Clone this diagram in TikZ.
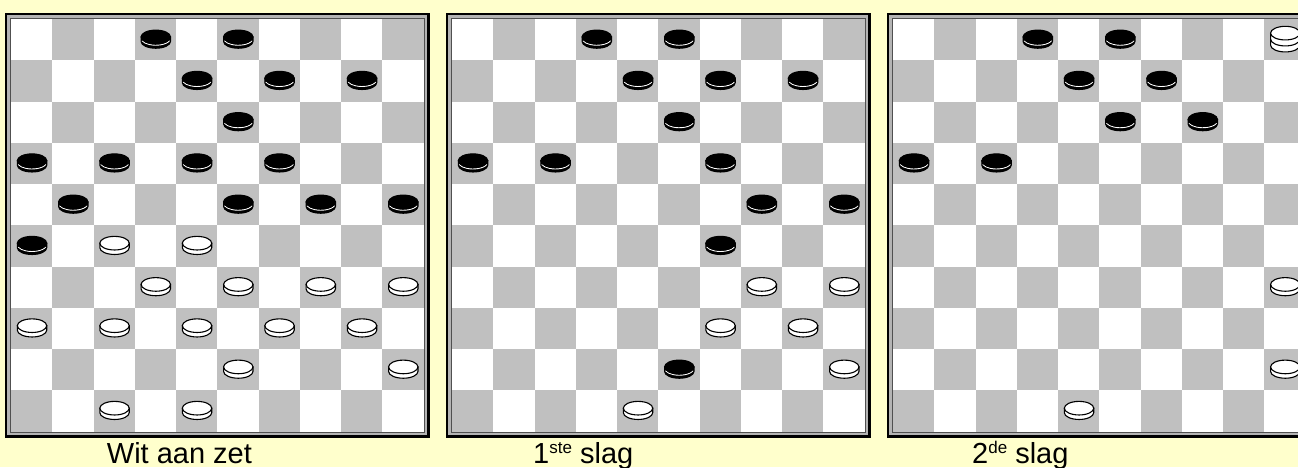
\documentclass[tikz,border=0pt]{standalone}
\usepackage{fontspec}
\setmainfont{Liberation Sans}
\definecolor{bgyellow}{HTML}{FFFFCC}
\definecolor{sqgray}{HTML}{C0C0C0}
\definecolor{framegray}{HTML}{B4B4B4}
\definecolor{framedark}{HTML}{505050}
\tikzset{
  piecebody/.style={line width=1.1pt, draw=black},
  boardlabel/.style={anchor=base west, inner sep=0pt, font=\fontsize{29}{34}\selectfont}
}
% #1,#2 = top-left corner of the squares
\newcommand\dbBoard[2]{%
  \fill[black] ({#1-6},{#2-6}) rectangle ({#1+418.5},{#2+418.5});
  \fill[framegray] ({#1-3.6},{#2-3.6}) rectangle ({#1+416.1},{#2+416.1});
  \fill[framedark] ({#1-1.3},{#2-1.3}) rectangle ({#1+413.8},{#2+413.8});
  \fill[white] (#1,#2) rectangle ({#1+412.5},{#2+412.5});
  \foreach \r in {0,...,9}{\foreach \c in {0,...,9}{%
    \pgfmathtruncatemacro\odd{mod(\r+\c,2)}%
    \ifnum\odd=1
      \fill[sqgray] ({#1+\c*41.25},{#2+\r*41.25}) rectangle ++(41.25,41.25);
    \fi}}%
}
% #1,#2 board origin, #3 row, #4 col
\newcommand\dbBlack[4]{%
  \begin{scope}[shift={({#1+(#4+0.5)*41.25+0.4},{#2+(#3+0.5)*41.25})}]
    \filldraw[piecebody, fill=black] (-14.7,-2.7) -- (-14.7,1.8)
      arc[start angle=180, end angle=360, x radius=14.7pt, y radius=6.8pt] -- (14.7,-2.7) -- cycle;
    \draw[white, line width=0.9pt] (0,-1.2) ++(200:14.7pt and 6.8pt)
      arc[start angle=200, end angle=340, x radius=14.7pt, y radius=6.8pt];
    \filldraw[piecebody, fill=black] (0,-2.7) ellipse[x radius=14.7pt, y radius=6.8pt];
  \end{scope}}
\newcommand\dbWhite[4]{%
  \begin{scope}[shift={({#1+(#4+0.5)*41.25+0.4},{#2+(#3+0.5)*41.25})}]
    \filldraw[piecebody, fill=white] (-14.7,-2.7) -- (-14.7,1.8)
      arc[start angle=180, end angle=360, x radius=14.7pt, y radius=6.8pt] -- (14.7,-2.7) -- cycle;
    \filldraw[piecebody, fill=white] (0,-2.7) ellipse[x radius=14.7pt, y radius=6.8pt];
  \end{scope}}
\newcommand\dbWhiteKing[4]{%
  \begin{scope}[shift={({#1+(#4+0.5)*41.25+0.4},{#2+(#3+0.5)*41.25})}]
    \filldraw[piecebody, fill=white] (-14.7,-6.5) -- (-14.7,5.5)
      arc[start angle=180, end angle=360, x radius=14.7pt, y radius=6.8pt] -- (14.7,-6.5) -- cycle;
    \draw[piecebody] (-14.7,-0.5)
      arc[start angle=180, end angle=360, x radius=14.7pt, y radius=6.8pt];
    \filldraw[piecebody, fill=white] (0,-6.5) ellipse[x radius=14.7pt, y radius=6.8pt];
  \end{scope}}
\begin{document}
\begin{tikzpicture}[x=1pt, y=-1pt]
\clip (0,0) rectangle (1298,467);
\fill[bgyellow] (0,0) rectangle (1298,467);

% ---------- board 1: Wit aan zet ----------
\dbBoard{11}{19}
\foreach \r/\c in {0/3,0/5,1/4,1/6,1/8,2/5,3/0,3/2,3/4,3/6,4/1,4/5,4/7,4/9,5/0}{\dbBlack{11}{19}{\r}{\c}}
\foreach \r/\c in {5/2,5/4,6/3,6/5,6/7,6/9,7/0,7/2,7/4,7/6,7/8,8/5,8/9,9/2,9/4}{\dbWhite{11}{19}{\r}{\c}}

% ---------- board 2: 1ste slag ----------
\dbBoard{452}{19}
\foreach \r/\c in {0/3,0/5,1/4,1/6,1/8,2/5,3/0,3/2,3/6,4/7,4/9,5/6,8/5}{\dbBlack{452}{19}{\r}{\c}}
\foreach \r/\c in {6/7,6/9,7/6,7/8,8/9,9/4}{\dbWhite{452}{19}{\r}{\c}}

% ---------- board 3: 2de slag ----------
\dbBoard{893}{19}
\foreach \r/\c in {0/3,0/5,1/4,1/6,2/5,2/7,3/0,3/2}{\dbBlack{893}{19}{\r}{\c}}
\foreach \r/\c in {6/9,8/9,9/4}{\dbWhite{893}{19}{\r}{\c}}
\dbWhiteKing{893}{19}{0}{9}

% ---------- labels ----------
\node[boardlabel] (lab1) at (106.7,463) {Wit aan zet};
\node[boardlabel] (lab2) at (533,463) {1\raisebox{10pt}{\fontsize{17}{20}\selectfont ste} slag};
\node[boardlabel] (lab3) at (972,463) {2\raisebox{10pt}{\fontsize{17}{20}\selectfont de} slag};
\end{tikzpicture}
\end{document}
